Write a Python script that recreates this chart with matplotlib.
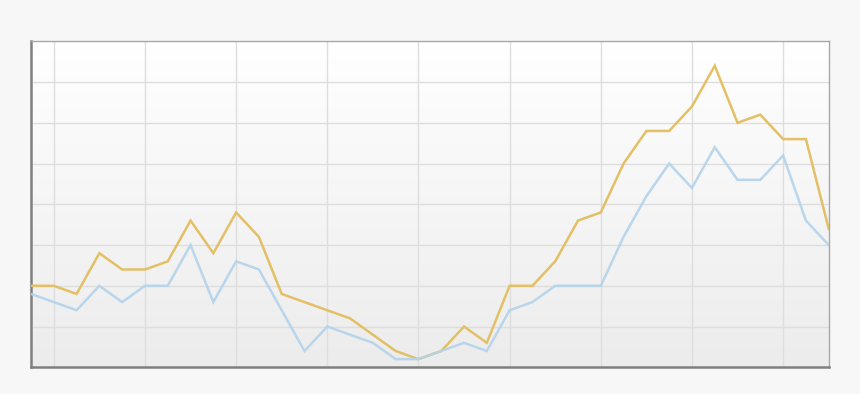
import matplotlib
matplotlib.use("Agg")
import matplotlib.pyplot as plt
import numpy as np
from matplotlib.colors import LinearSegmentedColormap

# Data (36 points, y units = grid steps, 0..8)
x_index = list(range(36))
series_gold = [2.0, 2.0, 1.8, 2.8, 2.4, 2.4, 2.6, 3.6, 2.8, 3.8, 3.2, 1.8,
               1.6, 1.4, 1.2, 0.8, 0.4, 0.2, 0.4, 1.0, 0.6, 2.0, 2.0, 2.6,
               3.6, 3.8, 5.0, 5.8, 5.8, 6.4, 7.4, 6.0, 6.2, 5.6, 5.6, 3.4]
series_blue = [1.8, 1.6, 1.4, 2.0, 1.6, 2.0, 2.0, 3.0, 1.6, 2.6, 2.4, 1.4,
               0.4, 1.0, 0.8, 0.6, 0.2, 0.2, 0.4, 0.6, 0.4, 1.4, 1.6, 2.0,
               2.0, 2.0, 3.2, 4.2, 5.0, 4.4, 5.4, 4.6, 4.6, 5.2, 3.6, 3.0]
y_ticks = [0, 1, 2, 3, 4, 5, 6, 7, 8]
x_grid = [1, 5, 9, 13, 17, 21, 25, 29, 33]

W, H = 860, 394
fig = plt.figure(figsize=(W / 100, H / 100), dpi=100, facecolor="#f7f7f7")
L, R, T, B = 31, 828.7, 41.3, 367.3
ax = fig.add_axes([L / W, 1 - B / H, (R - L) / W, (B - T) / H])

# gradient background: white at top, light grey at bottom
grad = np.linspace(0, 1, 256).reshape(-1, 1)
cmap = LinearSegmentedColormap.from_list("g", ["#ffffff", "#ececec"])
ax.imshow(grad, aspect="auto", cmap=cmap, extent=[0, 35, 0, 8],
          origin="upper", zorder=0)
ax.set_xlim(0, 35)
ax.set_ylim(0, 8)

for yv in y_ticks[1:-1]:
    ax.axhline(yv, color="#dedede", lw=1.0, zorder=1)
for xv in x_grid:
    ax.axvline(xv, color="#dedede", lw=1.0, zorder=1)

ax.plot(x_index, series_gold, color="#e3c066", lw=1.8, zorder=3,
        solid_joinstyle="miter")
ax.plot(x_index, series_blue, color="#b3d3eb", lw=1.8, zorder=4, alpha=0.9,
        solid_joinstyle="miter")

ax.set_xticks([])
ax.set_yticks([])
for side in ["top", "right"]:
    ax.spines[side].set_color("#a8a8a8")
    ax.spines[side].set_linewidth(1.0)
for side in ["left", "bottom"]:
    ax.spines[side].set_color("#7f7f7f")
    ax.spines[side].set_linewidth(1.8)

fig.savefig("out.png", dpi=100, facecolor=fig.get_facecolor())
